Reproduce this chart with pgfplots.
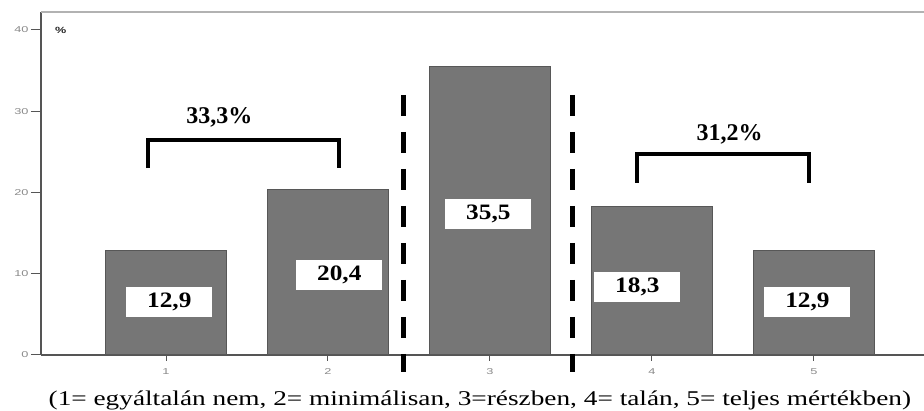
\documentclass[border=0pt]{standalone}
\usepackage{fontspec}
\setmainfont{Liberation Serif}
\setsansfont{Liberation Sans}
\usepackage{graphicx}
\usepackage{pgfplots}
\pgfplotsset{compat=1.18}
\definecolor{barfill}{HTML}{767676}
\definecolor{baredge}{HTML}{575757}
\definecolor{axgray}{HTML}{555555}
\definecolor{lblgray}{HTML}{8A8A8A}
\newcommand{\vlab}[1]{\scalebox{1.15}[1]{\fontsize{22}{22}\selectfont\bfseries #1}}
\newcommand{\tlab}[1]{\scalebox{1.5}[1]{\sffamily\fontsize{8.5}{8.5}\selectfont #1}}
\begin{document}
\begin{tikzpicture}
\begin{axis}[
  scale only axis,
  width=883pt, height=343pt,
  xmin=0.228, xmax=5.68,
  ymin=0, ymax=42.2,
  axis lines*=left,
  axis line style={-, draw=axgray, line width=1.3pt},
  clip=false,
  xtick={1,2,3,4,5}, ytick={0,10,20,30,40},
  tick align=outside,
  major tick length=10pt,
  ytick style={draw=axgray, line width=1pt},
  xtick style={draw=none},
  xticklabel={\tlab{\pgfmathprintnumber{\tick}}},
  yticklabel={\tlab{\pgfmathprintnumber{\tick}}},
  /pgf/number format/assume math mode=true,
  ticklabel style={text=lblgray},
  xticklabel style={yshift=0pt},
  yticklabel style={xshift=1pt},
]
\draw[gray!60, line width=1.5pt] (rel axis cs:0,1) -- (rel axis cs:1,1);
\pgfplotsinvokeforeach{1,2,3,4,5}{
  \draw[axgray, line width=1pt] (axis cs:#1,0) -- ([yshift=-6pt]axis cs:#1,0);
}
\addplot[ybar, bar width=0.747, fill=barfill, draw=baredge, line width=1pt]
  coordinates {(1,12.9) (2,20.4) (3,35.5) (4,18.3) (5,12.9)};
% value boxes
\node[fill=white, minimum width=86pt, minimum height=30pt, inner sep=0pt] at (axis cs:1.02,6.5) {\vlab{12,9}};
\node[fill=white, minimum width=86pt, minimum height=30pt, inner sep=0pt] at (axis cs:2.07,9.8) {\vlab{20,4}};
\node[fill=white, minimum width=86pt, minimum height=30pt, inner sep=0pt] at (axis cs:2.99,17.4) {\vlab{35,5}};
\node[fill=white, minimum width=86pt, minimum height=30pt, inner sep=0pt] at (axis cs:3.91,8.4) {\vlab{18,3}};
\node[fill=white, minimum width=86pt, minimum height=30pt, inner sep=0pt] at (axis cs:4.96,6.5) {\vlab{12,9}};
% dashed separators
\draw[black, line width=5pt, dash pattern=on 21pt off 16pt] (axis cs:2.465,32.0) -- (axis cs:2.465,-2.1);
\draw[black, line width=5pt, dash pattern=on 21pt off 16pt] (axis cs:3.51,32.0) -- (axis cs:3.51,-2.1);
% brackets
\draw[black, line width=4pt] (axis cs:0.889,23.0) -- (axis cs:0.889,26.5) -- (axis cs:2.07,26.5) -- (axis cs:2.07,23.0);
\draw[black, line width=4pt] (axis cs:3.905,21.2) -- (axis cs:3.905,24.7) -- (axis cs:4.97,24.7) -- (axis cs:4.97,21.2);
\node[font=\fontsize{24}{24}\selectfont\bfseries] at (axis cs:1.33,29.2) {33,3\%};
\node[font=\fontsize{24}{24}\selectfont\bfseries] at (axis cs:4.48,27.1) {31,2\%};
\node[text=black!85] at (axis cs:0.35,39.9) {\scalebox{1.4}[1]{\sffamily\bfseries\fontsize{9}{9}\selectfont\%}};
\coordinate (cap) at ([yshift=-45pt]rel axis cs:0.497,0);
\coordinate (bl) at ([xshift=-41pt,yshift=-56pt]rel axis cs:0,0);
\coordinate (tr) at ([yshift=12pt]rel axis cs:1,1);
\end{axis}
\node at (cap) {\scalebox{1.3}[1]{\fontsize{21}{21}\selectfont (1= egyáltalán nem, 2= minimálisan, 3=részben, 4= talán, 5= teljes mértékben)}};
\pgfresetboundingbox
\path[use as bounding box] (bl) rectangle (tr);
\end{tikzpicture}
\end{document}
